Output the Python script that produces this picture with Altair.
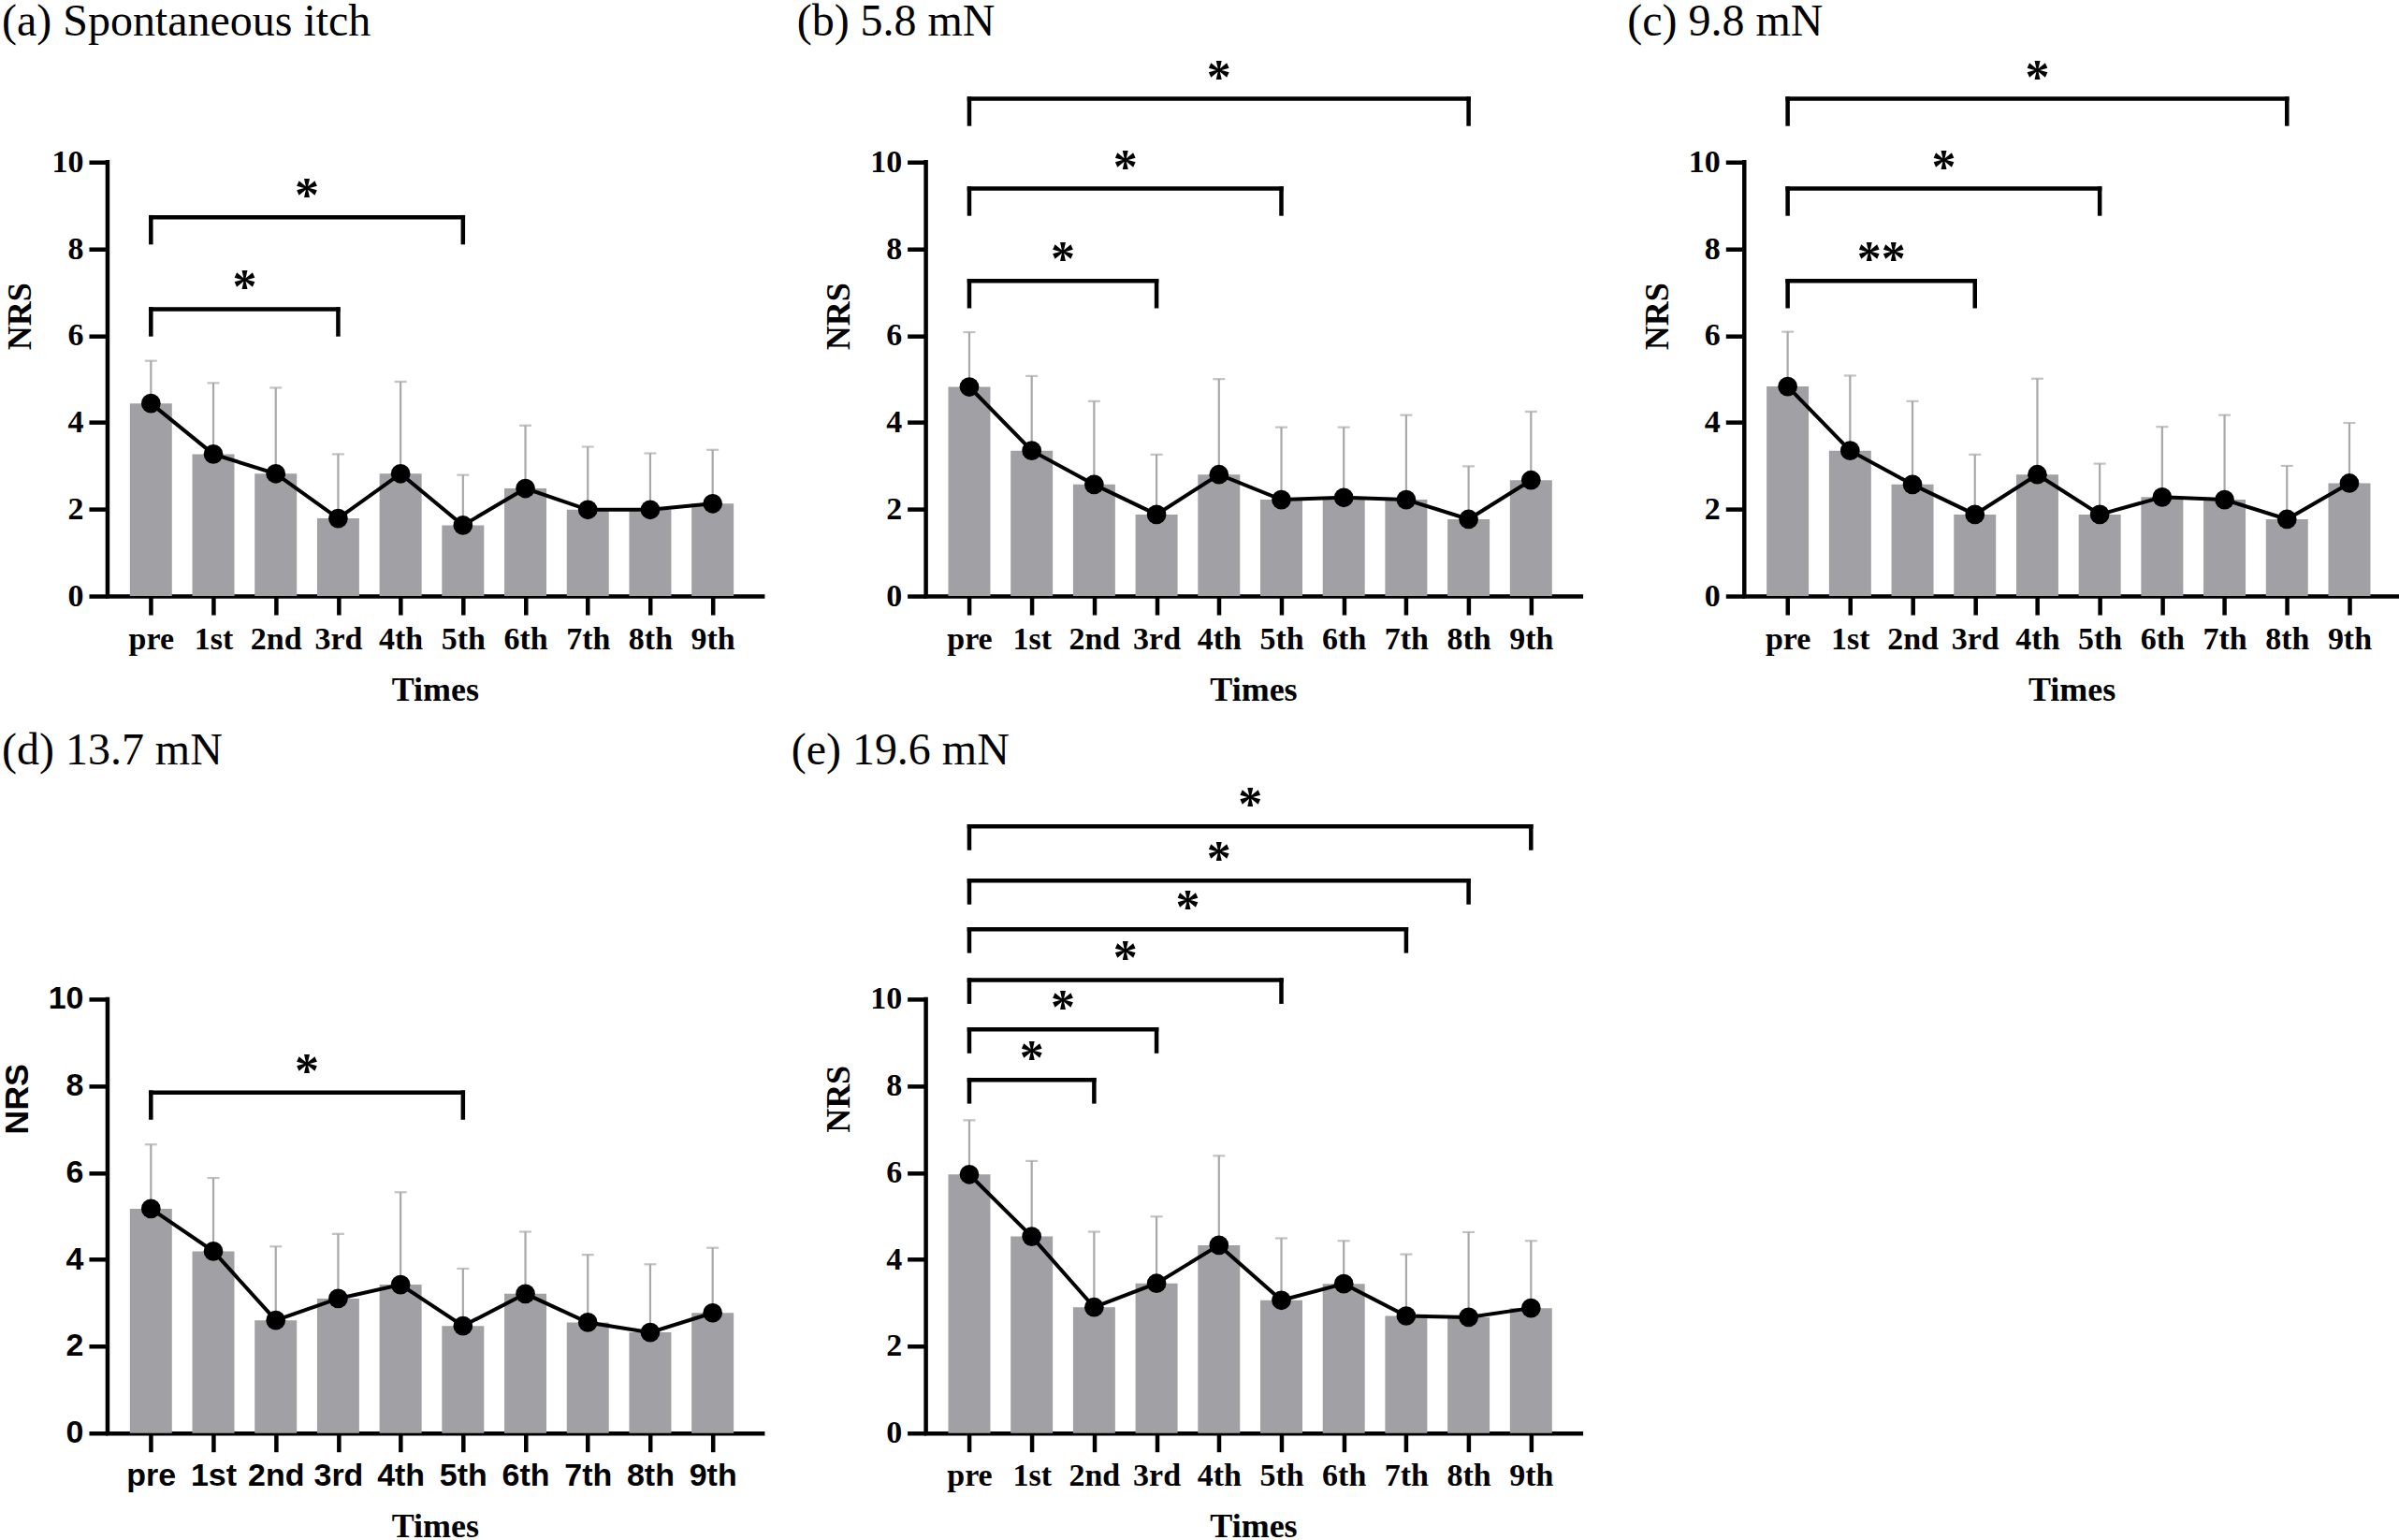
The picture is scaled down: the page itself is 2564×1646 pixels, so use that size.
import json
import altair as alt
import pandas as pd

# Sessions on the x axis
times = ["pre", "1st", "2nd", "3rd", "4th", "5th", "6th", "7th", "8th", "9th"]

panel_titles = ["(a) Spontaneous itch", "(b) 5.8 mN", "(c) 9.8 mN", "(d) 13.7 mN", "(e) 19.6 mN"]

# Mean NRS and SD per session
a_mean = [4.44, 3.27, 2.82, 1.79, 2.82, 1.63, 2.48, 1.99, 1.99, 2.13]
a_sd = [0.98, 1.64, 1.98, 1.48, 2.12, 1.16, 1.45, 1.45, 1.30, 1.24]

b_mean = [4.82, 3.35, 2.57, 1.88, 2.80, 2.22, 2.27, 2.22, 1.77, 2.67]
b_sd = [1.26, 1.72, 1.92, 1.38, 2.20, 1.67, 1.62, 1.95, 1.22, 1.58]

c_mean = [4.83, 3.35, 2.57, 1.88, 2.80, 1.88, 2.28, 2.22, 1.77, 2.60]
c_sd = [1.26, 1.73, 1.92, 1.38, 2.21, 1.17, 1.62, 1.95, 1.23, 1.39]

d_mean = [5.17, 4.19, 2.60, 3.10, 3.42, 2.47, 3.21, 2.55, 2.32, 2.77]
d_sd = [1.48, 1.69, 1.70, 1.49, 2.13, 1.32, 1.43, 1.56, 1.57, 1.50]

e_mean = [5.96, 4.53, 2.90, 3.45, 4.33, 3.06, 3.44, 2.70, 2.67, 2.88]
e_sd = [1.25, 1.74, 1.74, 1.54, 2.06, 1.43, 0.99, 1.42, 1.96, 1.55]

# Significance brackets: comparison session (vs pre), bracket height, label
a_br_to = ["3rd", "5th"]
a_br_y = [6.61, 8.73]
a_br_lab = ["*", "*"]

b_br_to = ["3rd", "5th", "8th"]
b_br_y = [7.26, 9.39, 11.46]
b_br_lab = ["*", "*", "*"]

c_br_to = ["3rd", "5th", "8th"]
c_br_y = [7.26, 9.39, 11.46]
c_br_lab = ["**", "*", "*"]

d_br_to = ["5th"]
d_br_y = [7.85]
d_br_lab = ["*"]

e_br_to = ["2nd", "3rd", "5th", "7th", "8th", "9th"]
e_br_y = [8.14, 9.30, 10.44, 11.61, 12.73, 13.98]
e_br_lab = ["*", "*", "*", "*", "*", "*"]

y_ticks = [0, 2, 4, 6, 8, 10]

SERIF = "Liberation Serif"
SANS = "Liberation Sans"
PX_PER_UNIT = 46.4
PLOT_W = 700
X_DOMAIN = [-0.62, 9.72]
BAR_GRAY = "#a1a1a5"
ERR_GRAY = "#a8a8a8"
AXIS_W = 4.5

label_expr = json.dumps(times) + "[datum.value]"


def panel(title, mean, sd, br_to, br_y, br_lab, ymax, title_dx, tick_font, leg_drop):
    height = round(ymax * PX_PER_UNIT)
    df = pd.DataFrame({
        "i": list(range(len(times))),
        "mean": mean,
        "top": [m + s for m, s in zip(mean, sd)],
    })
    br = pd.DataFrame({
        "i0": [times.index("pre")] * len(br_to),
        "i1": [times.index(t) for t in br_to],
        "y": br_y,
        "lab": br_lab,
    })
    br["mid"] = (br["i0"] + br["i1"]) / 2
    br["foot"] = br["y"] - leg_drop

    xscale = alt.Scale(domain=X_DOMAIN, nice=False, zero=False)
    yscale = alt.Scale(domain=[0, ymax], nice=False, zero=True)
    x_axis = alt.Axis(values=list(range(len(times))), labelExpr=label_expr,
                      labelFont=tick_font, grid=False)
    y_axis = alt.Axis(values=y_ticks, domain=False, grid=False,
                      labelFont=tick_font, titleFont=tick_font)

    def X(field):
        return alt.X(field, scale=xscale, axis=x_axis, title="Times")

    def Y(field):
        return alt.Y(field, scale=yscale, axis=y_axis, title="NRS")

    bars = alt.Chart(df).mark_bar(size=45, color=BAR_GRAY, orient="vertical").encode(
        x=X("i:Q"), y=Y("mean:Q"), y2=alt.datum(0)
    )
    err = alt.Chart(df).mark_rule(color=ERR_GRAY, strokeWidth=2.2).encode(
        x=X("i:Q"), y=Y("mean:Q"), y2="top:Q",
    )
    cap = alt.Chart(df).mark_tick(color=ERR_GRAY, size=13, thickness=2.2, orient="horizontal").encode(
        x=X("i:Q"), y=Y("top:Q"),
    )
    # y axis line drawn only over the 0-10 tick range
    yline = alt.Chart(df).transform_aggregate(n="count()").mark_rule(
        color="black", strokeWidth=AXIS_W, strokeCap="square"
    ).encode(
        x=alt.value(0),
        y=alt.datum(min(y_ticks)), y2=alt.datum(max(y_ticks)),
    )
    line = alt.Chart(df).mark_line(color="black", strokeWidth=4).encode(
        x=X("i:Q"), y=Y("mean:Q"),
    )
    dots = alt.Chart(df).mark_circle(size=430, color="black", opacity=1).encode(
        x=X("i:Q"), y=Y("mean:Q"),
    )
    hbar = alt.Chart(br).mark_rule(color="black", strokeWidth=AXIS_W, strokeCap="square").encode(
        x=X("i0:Q"), x2="i1:Q", y=Y("y:Q"),
    )
    leg_l = alt.Chart(br).mark_rule(color="black", strokeWidth=AXIS_W, strokeCap="square").encode(
        x=X("i0:Q"), y=Y("y:Q"), y2="foot:Q",
    )
    leg_r = alt.Chart(br).mark_rule(color="black", strokeWidth=AXIS_W, strokeCap="square").encode(
        x=X("i1:Q"), y=Y("y:Q"), y2="foot:Q",
    )
    stars = alt.Chart(br).mark_text(
        font=SERIF, fontSize=52, fontWeight="bold", color="black",
        baseline="middle", align="center", dy=-22,
    ).encode(
        x=X("mid:Q"), y=Y("y:Q"), text="lab:N",
    )
    head = alt.Chart(pd.DataFrame({"title": [title]})).mark_text(
        font=SERIF, fontSize=48, fontWeight="normal", color="black",
        align="left", baseline="alphabetic",
    ).encode(x=alt.value(title_dx), y=alt.value(0), text="title:N")

    return alt.layer(bars, err, cap, yline, line, dots, hbar, leg_l, leg_r, stars, head).properties(
        width=PLOT_W, height=height
    )


TOP_YMAX = 599 / PX_PER_UNIT
BOT_YMAX = 715 / PX_PER_UNIT

pa = panel(panel_titles[0], a_mean, a_sd, a_br_to, a_br_y, a_br_lab, TOP_YMAX, -113, SERIF, 0.58)
pb = panel(panel_titles[1], b_mean, b_sd, b_br_to, b_br_y, b_br_lab, TOP_YMAX, -138, SERIF, 0.58)
pc = panel(panel_titles[2], c_mean, c_sd, c_br_to, c_br_y, c_br_lab, TOP_YMAX, -125, SERIF, 0.58)
pd_ = panel(panel_titles[3], d_mean, d_sd, d_br_to, d_br_y, d_br_lab, BOT_YMAX, -113, SANS, 0.58)
pe = panel(panel_titles[4], e_mean, e_sd, e_br_to, e_br_y, e_br_lab, BOT_YMAX, -144, SERIF, 0.50)

chart = alt.concat(
    pa, pb, pc, pd_, pe, columns=3, bounds="flush",
    spacing={"row": 180, "column": 175},
).properties(
    padding=0, background="white"
).configure_view(stroke=None).configure_axis(
    domainColor="black", domainWidth=AXIS_W, domainCap="square",
    tickColor="black", tickWidth=AXIS_W, tickSize=20,
    labelColor="black", labelFontSize=34, labelFontWeight="bold",
    titleColor="black", titleFont=SERIF, titleFontSize=36, titleFontWeight="bold",
).configure_axisX(
    labelPadding=9, titlePadding=20, labelAngle=0,
).configure_axisY(
    labelPadding=6, titlePadding=14,
)

chart.save("out.html", embed_options={"renderer": "svg", "actions": False})
